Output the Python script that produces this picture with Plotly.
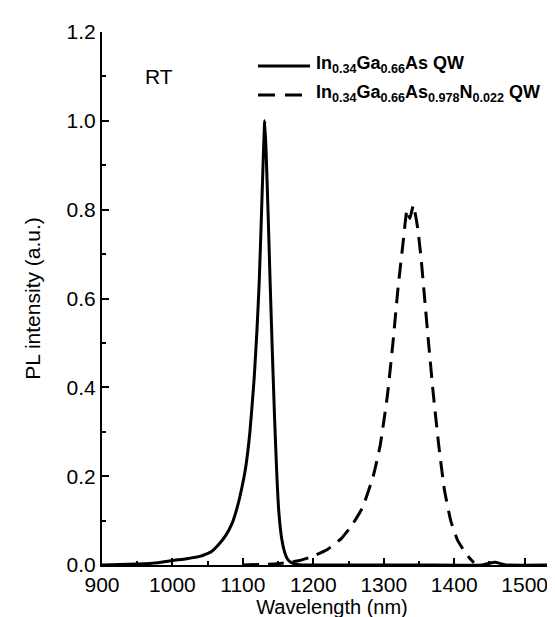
import plotly.graph_objects as go

# InGaAs QW (solid)
wl_ingaas = [900, 950, 980, 1000, 1020, 1040, 1055, 1065, 1075, 1085, 1092, 1098, 1104,
             1110, 1116, 1120, 1123, 1126, 1129, 1131, 1133, 1136, 1139, 1142, 1145,
             1148, 1151, 1155, 1159, 1163, 1168, 1175, 1185, 1250, 1350, 1440, 1450,
             1458, 1466, 1474, 1553]
pl_ingaas = [0.0, 0.002, 0.005, 0.01, 0.014, 0.02, 0.03, 0.045, 0.065, 0.095, 0.13, 0.17, 0.22,
             0.3, 0.42, 0.53, 0.63, 0.77, 0.92, 1.0, 0.93, 0.78, 0.62, 0.47, 0.33,
             0.21, 0.12, 0.06, 0.03, 0.014, 0.006, 0.002, 0.0, 0.0, 0.0, 0.0, 0.004,
             0.006, 0.003, 0.0, 0.0]

# InGaAsN QW (dashed)
wl_ingaasn = [1100, 1150, 1180, 1200, 1220, 1240, 1255, 1270, 1285, 1295, 1305, 1313, 1320,
              1327, 1333, 1337, 1342, 1348, 1353, 1358, 1363, 1370, 1378, 1386, 1395,
              1405, 1415, 1422, 1428]
pl_ingaasn = [0.0, 0.003, 0.01, 0.02, 0.035, 0.06, 0.09, 0.13, 0.2, 0.27, 0.38, 0.5, 0.62,
              0.72, 0.8, 0.78, 0.81, 0.76, 0.69, 0.6, 0.51, 0.39, 0.27, 0.17, 0.1,
              0.055, 0.03, 0.015, 0.005]

name_1 = "<b>In<sub>0.34</sub>Ga<sub>0.66</sub>As QW</b>"
name_2 = "<b>In<sub>0.34</sub>Ga<sub>0.66</sub>As<sub>0.978</sub>N<sub>0.022</sub> QW</b>"

x_ticks = [900, 1000, 1100, 1200, 1300, 1400, 1500]
y_ticks = [0.0, 0.2, 0.4, 0.6, 0.8, 1.0, 1.2]

FONT = "Liberation Sans, Arial, sans-serif"

# figure geometry (pixels)
W, H = 555, 617
ML, MR, MT, MB = 94, 1, 24, 60
PW, PH = W - ML - MR, H - MT - MB


def px(xp):
    return (xp - ML) / PW


def py(yp):
    return (H - MB - yp) / PH


fig = go.Figure()
fig.add_trace(go.Scatter(x=wl_ingaas, y=pl_ingaas, mode="lines", name=name_1,
                         showlegend=False,
                         line=dict(color="black", width=3, shape="spline", smoothing=0.4)))
fig.add_trace(go.Scatter(x=wl_ingaasn, y=pl_ingaasn, mode="lines", name=name_2,
                         showlegend=False,
                         line=dict(color="black", width=3, dash="16px,9px",
                                   shape="spline", smoothing=0.4)))

# "RT" label
fig.add_annotation(x=958, y=1.10, text="RT", showarrow=False, xanchor="left",
                   yanchor="middle", font=dict(family=FONT, size=21, color="black"))

# legend (drawn manually so the sample lines match the original length)
legend_rows = [(name_1, 58, "solid", 302), (name_2, 87, "17px,10px", 294)]
for text, yrow, dash, xend in legend_rows:
    fig.add_shape(type="line", xref="paper", yref="paper",
                  x0=px(250), x1=px(xend), y0=py(yrow), y1=py(yrow),
                  line=dict(color="black", width=3, dash=dash))
    fig.add_annotation(xref="paper", yref="paper", x=px(306), y=py(yrow - 1),
                       text=text, showarrow=False, xanchor="left", yanchor="middle",
                       font=dict(family=FONT, size=18, color="black"))

axis_common = dict(showline=True, linecolor="black", linewidth=2, ticks="inside",
                   ticklen=7, tickwidth=2, tickcolor="black", showgrid=False,
                   zeroline=False, mirror=False,
                   tickfont=dict(family=FONT, size=21, color="black"))

fig.update_xaxes(range=[900, 1553], tickvals=x_ticks,
                 ticktext=[str(v) for v in x_ticks],
                 title=dict(text="Wavelength (nm)", font=dict(family=FONT, size=20, color="black"),
                            standoff=0),
                 minor=dict(ticks="inside", ticklen=4, tickwidth=1.5, tickcolor="black", dtick=50),
                 **axis_common)
fig.update_yaxes(range=[0, 1.2], tickvals=y_ticks,
                 ticktext=[f"{v:.1f}" for v in y_ticks],
                 title=dict(text="PL intensity (a.u.)", font=dict(family=FONT, size=21, color="black"),
                            standoff=20),
                 minor=dict(ticks="inside", ticklen=4, tickwidth=1.5, tickcolor="black", dtick=0.1),
                 **axis_common)

fig.update_layout(
    width=W, height=H,
    margin=dict(l=ML, r=MR, t=MT, b=MB),
    paper_bgcolor="white", plot_bgcolor="white",
    showlegend=False,
)

fig.write_html("out.html")
